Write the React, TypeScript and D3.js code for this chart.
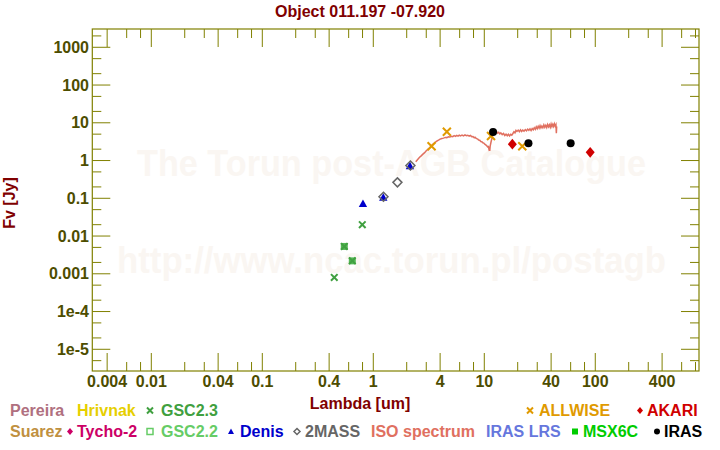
import * as d3 from 'd3';
import React from 'react';

const title = 'Object 011.197 -07.920';
const xTitle = 'Lambda [um]';
const yTitle = 'Fv [Jy]';
const watermark1 = 'The Torun post-AGB Catalogue';
const watermark2 = 'http://www.ncac.torun.pl/postagb';

const xTickValues = [0.004, 0.01, 0.04, 0.1, 0.4, 1, 4, 10, 40, 100, 400];
const xTickLabels = ['0.004', '0.01', '0.04', '0.1', '0.4', '1', '4', '10', '40', '100', '400'];
const xMinorTicks = [0.006, 0.008, 0.02, 0.03, 0.06, 0.08, 0.2, 0.3, 0.6, 0.8, 2, 3, 6, 8, 20, 30, 60, 80, 200, 300, 600, 800];
const yTickValues = [1e-5, 1e-4, 0.001, 0.01, 0.1, 1, 10, 100, 1000];
const yTickLabels = ['1e-5', '1e-4', '0.001', '0.01', '0.1', '1', '10', '100', '1000'];
const yMinorTicks = [5e-6, 2e-5, 5e-5, 2e-4, 5e-4, 0.002, 0.005, 0.02, 0.05, 0.2, 0.5, 2, 5, 20, 50, 200, 500, 2000];

// photometry, wavelength in um, flux in Jy
const gsc23Wave = [0.445, 0.548, 0.647, 0.796];
const gsc23Flux = [0.0008, 0.0053, 0.0022, 0.02];
const gsc22Wave = [0.548, 0.647];
const gsc22Flux = [0.0053, 0.0022];
const denisWave = [0.807, 1.23, 2.14];
const denisFlux = [0.072, 0.105, 0.72];
const twomassWave = [1.235, 1.65, 2.16];
const twomassFlux = [0.11, 0.264, 0.74];
const allwiseWave = [3.35, 4.6, 11.5, 22];
const allwiseFlux = [2.38, 5.8, 4.46, 2.38];
const akariWave = [17.9, 90];
const akariFlux = [2.72, 1.65];
const irasWave = [12, 25, 60];
const irasFlux = [5.7, 2.86, 2.86];

// ISO SWS spectrum
const isoWave = [
  2.41, 2.5, 2.6, 2.7, 2.8, 2.9, 3.0, 3.1, 3.2, 3.3, 3.4, 3.5, 3.6, 3.7, 3.8, 3.9, 4.0, 4.15, 4.3, 4.45,
  4.6, 4.75, 4.9, 5.05, 5.2, 5.35, 5.5, 5.65, 5.8, 5.95, 6.1, 6.3, 6.5, 6.7, 6.9, 7.1, 7.3, 7.5, 7.7, 7.9,
  8.1, 8.3, 8.5, 8.7, 8.9, 9.1, 9.3, 9.5, 9.7, 9.9, 10.1, 10.3, 10.5, 10.7, 10.9, 11.0, 11.1, 11.2, 11.3, 11.5,
  11.7, 11.9, 12.1, 12.3, 12.6, 12.9, 13.2, 13.5, 13.8, 14.1, 14.5, 14.9, 15.3, 15.7, 16.1, 16.5, 16.9, 17.3, 17.7, 18.1,
  18.5, 18.9, 19.3, 19.7, 20.2, 20.7, 21.2, 21.7, 22.2, 22.8, 23.4, 24.0, 24.6, 25.2, 25.8, 26.4, 27.0, 27.6, 28.2, 28.8,
  29.4, 30.0, 30.6, 31.2, 31.8, 32.4, 33.0, 33.7, 34.4, 35.1, 35.8, 36.5, 37.2, 37.9, 38.6, 39.3, 40.0, 40.7, 41.4, 42.1,
  42.8, 43.5, 44.2, 44.6, 44.9,
];
const isoFlux = [
  0.93, 1.05, 1.2, 1.33, 1.48, 1.62, 1.82, 1.98, 2.15, 2.35, 2.6, 2.8, 3.0, 3.2, 3.38, 3.52, 3.68, 3.85, 3.92, 4.1,
  4.05, 4.25, 4.18, 4.4, 4.3, 4.55, 4.38, 4.62, 4.45, 4.7, 4.52, 4.75, 4.5, 4.8, 4.55, 4.68, 4.42, 4.6, 4.3, 4.35,
  4.05, 4.1, 3.8, 3.75, 3.5, 3.45, 3.2, 3.15, 2.95, 2.9, 2.7, 2.6, 2.5, 2.3, 2.35, 2.05, 2.2, 1.8, 2.4, 3.1,
  3.8, 4.6, 5.3, 5.8, 5.6, 5.85, 5.3, 5.6, 5.1, 5.4, 4.85, 5.2, 4.6, 5.0, 4.55, 4.95, 4.5, 4.95, 4.7, 5.2,
  5.8, 5.4, 6.3, 5.9, 6.4, 5.8, 6.5, 5.9, 6.4, 6.0, 6.6, 6.1, 6.8, 6.3, 6.9, 6.2, 7.0, 6.5, 7.4, 6.7,
  7.8, 7.0, 8.1, 7.2, 8.4, 7.3, 8.2, 7.4, 8.8, 7.6, 8.6, 7.5, 9.0, 7.8, 8.8, 7.6, 9.3, 7.9, 9.1, 8.0,
  9.4, 8.2, 9.0, 5.3, 8.0,
];

const legendNames = ['Pereira', 'Hrivnak', 'GSC2.3', 'ALLWISE', 'AKARI', 'Suarez', 'Tycho-2', 'GSC2.2', 'Denis', '2MASS', 'ISO spectrum', 'IRAS LRS', 'MSX6C', 'IRAS'];
const legendColors = ['#b07080', '#e6cf00', '#40a040', '#e09a00', '#d00000', '#c09040', '#cc0066', '#66cc66', '#0000cc', '#666666', '#e07060', '#6677dd', '#00cc00', '#000000'];
const legendMarks = ['', '', 'x', 'x', 'diamond', '', 'diamond', 'openSquare', 'triangle', 'openDiamond', '', '', 'square', 'circle'];
// layout: text start x, marker x, row
const legendTextX = [10, 77, 161, 539, 647, 10, 77, 161, 240, 305, 371, 486, 583, 664];
const legendMarkX = [0, 0, 150, 530, 640, 0, 70, 150, 231, 297, 0, 0, 575, 657];
const legendRow = [0, 0, 0, 0, 0, 1, 1, 1, 1, 1, 1, 1, 1, 1];

const W = 720;
const H = 450;
const left = 92.3;
const right = 699;
const top = 29;
const bottom = 371;
const axisColor = '#808000';
const labelColor = '#4d4d00';
const titleColor = '#800000';
const font = '"Liberation Sans", Arial, sans-serif';

function Marker({ kind, x, y, s, color }: { kind: string; x: number; y: number; s: number; color: string }) {
  if (kind === 'x')
    return (
      <path d={`M${x - s},${y - s}L${x + s},${y + s}M${x - s},${y + s}L${x + s},${y - s}`} stroke={color} strokeWidth={2} fill="none" />
    );
  if (kind === 'diamond')
    return <path d={`M${x},${y - s * 1.2}L${x + s},${y}L${x},${y + s * 1.2}L${x - s},${y}Z`} fill={color} />;
  if (kind === 'openDiamond')
    return <path d={`M${x},${y - s}L${x + s},${y}L${x},${y + s}L${x - s},${y}Z`} fill="none" stroke={color} strokeWidth={1.5} />;
  if (kind === 'triangle')
    return <path d={`M${x},${y - s}L${x + s},${y + s * 0.8}L${x - s},${y + s * 0.8}Z`} fill={color} />;
  if (kind === 'square') return <rect x={x - s} y={y - s} width={s * 2} height={s * 2} fill={color} />;
  if (kind === 'openSquare')
    return <rect x={x - s} y={y - s} width={s * 2} height={s * 2} fill="none" stroke={color} strokeWidth={1.5} />;
  if (kind === 'circle') return <circle cx={x} cy={y} r={s} fill={color} />;
  return null;
}

export default function App() {
  const xScale = d3.scaleLog().domain([0.00294, 860]).range([left, right]);
  const yScale = d3.scaleLog().domain([2.66e-6, 3050]).range([bottom, top]);

  const isoLine = d3
    .line<number>()
    .x((d, i) => xScale(isoWave[i]))
    .y(d => yScale(d));

  const pts = (wave: number[], flux: number[]) => wave.map((w, i) => [xScale(w), yScale(flux[i])]);

  return (
    <svg width={W} height={H} style={{ position: 'absolute', left: 0, top: 0, background: '#fff' }} fontFamily={font} fontWeight="bold">
      <rect width={W} height={H} fill="#fff" />
      {/* watermark */}
      <text x={391.5} y={176} textAnchor="middle" fontSize={36} fill="#faf6f2" textLength={509} lengthAdjust="spacingAndGlyphs">
        {watermark1}
      </text>
      <text x={391.5} y={273} textAnchor="middle" fontSize={36} fill="#faf6f2" textLength={549} lengthAdjust="spacingAndGlyphs">
        {watermark2}
      </text>

      <text x={360} y={17} textAnchor="middle" fontSize={16} fill={titleColor}>
        {title}
      </text>

      {/* frame */}
      <rect x={left} y={top} width={right - left} height={bottom - top} fill="none" stroke={axisColor} strokeWidth={1.2} />
      <g stroke={axisColor} strokeWidth={1}>
        {xTickValues.map(v => (
          <g key={'xm' + v}>
            <line x1={xScale(v)} x2={xScale(v)} y1={bottom} y2={bottom - 18} />
            <line x1={xScale(v)} x2={xScale(v)} y1={top} y2={top + 18} />
          </g>
        ))}
        {xMinorTicks.map(v => (
          <g key={'xn' + v}>
            <line x1={xScale(v)} x2={xScale(v)} y1={bottom} y2={bottom - 9} />
            <line x1={xScale(v)} x2={xScale(v)} y1={top} y2={top + 9} />
          </g>
        ))}
        {yTickValues.map(v => (
          <g key={'ym' + v}>
            <line x1={left} x2={left + 18} y1={yScale(v)} y2={yScale(v)} />
            <line x1={right} x2={right - 18} y1={yScale(v)} y2={yScale(v)} />
          </g>
        ))}
        {yMinorTicks.map(v => (
          <g key={'yn' + v}>
            <line x1={left} x2={left + 9} y1={yScale(v)} y2={yScale(v)} />
            <line x1={right} x2={right - 9} y1={yScale(v)} y2={yScale(v)} />
          </g>
        ))}
      </g>
      <g fontSize={16} fill={labelColor}>
        {xTickValues.map((v, i) => (
          <text key={'xl' + v} x={xScale(v)} y={387} textAnchor="middle">
            {xTickLabels[i]}
          </text>
        ))}
        {yTickValues.map((v, i) => (
          <text key={'yl' + v} x={89} y={yScale(v) + 5.7} textAnchor="end">
            {yTickLabels[i]}
          </text>
        ))}
      </g>
      <text x={360} y={409} textAnchor="middle" fontSize={16} fill={titleColor}>
        {xTitle}
      </text>
      <text x={15} y={203} textAnchor="middle" fontSize={16} fill={titleColor} transform="rotate(-90,15,203)">
        {yTitle}
      </text>

      {/* ISO spectrum */}
      <path d={isoLine(isoFlux) || ''} fill="none" stroke="#e07060" strokeWidth={1.5} />

      {/* photometry */}
      {pts(gsc22Wave, gsc22Flux).map(([x, y], i) => (
        <Marker key={'g22' + i} kind="square" x={x} y={y} s={3.5} color="#55b855" />
      ))}
      {pts(gsc23Wave, gsc23Flux).map(([x, y], i) => (
        <Marker key={'g23' + i} kind="x" x={x} y={y} s={3.3} color="#40a040" />
      ))}
      {pts(denisWave, denisFlux).map(([x, y], i) => (
        <Marker key={'de' + i} kind="triangle" x={x} y={y} s={4.2} color="#0000cc" />
      ))}
      {pts(twomassWave, twomassFlux).map(([x, y], i) => (
        <Marker key={'tm' + i} kind="openDiamond" x={x} y={y} s={4.5} color="#666666" />
      ))}
      {pts(allwiseWave, allwiseFlux).map(([x, y], i) => (
        <Marker key={'aw' + i} kind="x" x={x} y={y} s={4} color="#e09a00" />
      ))}
      {pts(akariWave, akariFlux).map(([x, y], i) => (
        <Marker key={'ak' + i} kind="diamond" x={x} y={y} s={4.5} color="#d00000" />
      ))}
      {pts(irasWave, irasFlux).map(([x, y], i) => (
        <Marker key={'ir' + i} kind="circle" x={x} y={y} s={4} color="#000000" />
      ))}

      {/* legend */}
      <g fontSize={16}>
        {legendNames.map((name, i) => {
          const y = legendRow[i] === 0 ? 416 : 437;
          return (
            <g key={name}>
              {legendMarks[i] && (
                <Marker kind={legendMarks[i]} x={legendMarkX[i]} y={y - 5.5} s={legendMarks[i] === 'circle' ? 3 : 3} color={legendColors[i]} />
              )}
              <text x={legendTextX[i]} y={y} fill={legendColors[i]}>
                {name}
              </text>
            </g>
          );
        })}
      </g>
    </svg>
  );
}
